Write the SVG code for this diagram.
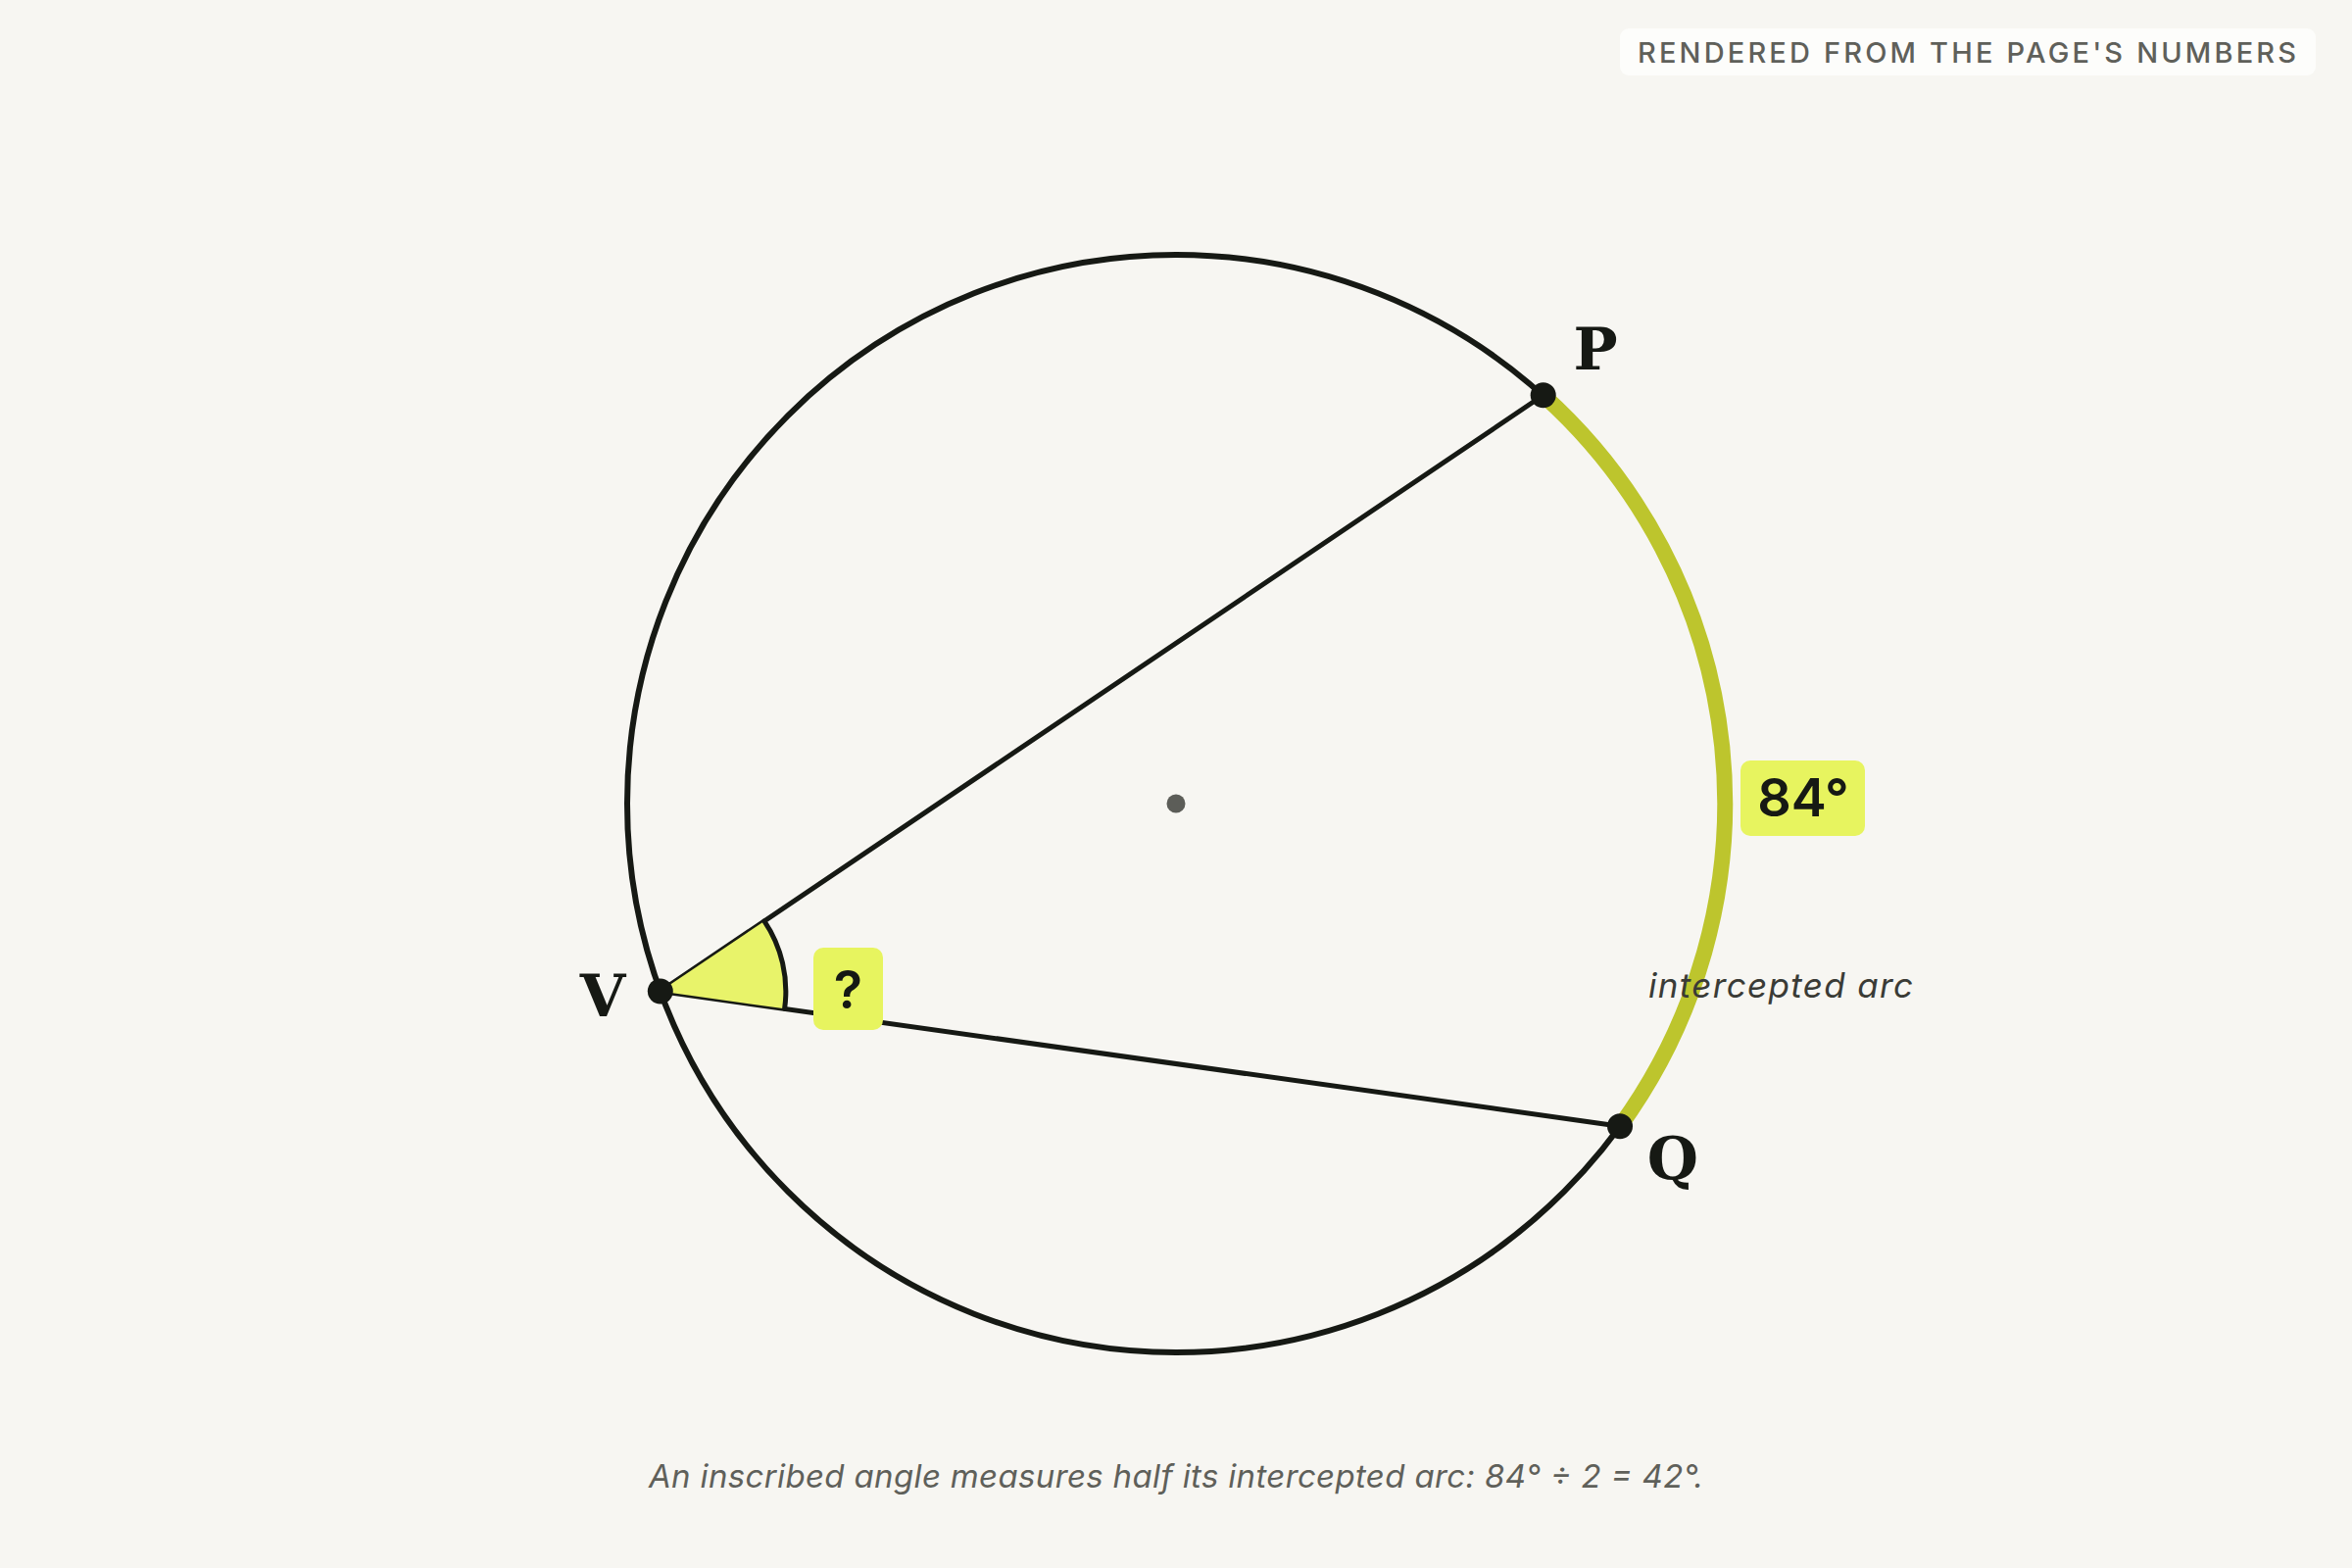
<svg xmlns="http://www.w3.org/2000/svg" width="2400" height="1600" viewBox="0 0 2400 1600">
  <style>
    .ink { stroke: #161914; fill: none; stroke-linecap: round; }
    .dot { fill: #161914; }
    .pt { font-family: "DejaVu Serif", "Liberation Serif", serif; font-weight: bold; font-size: 60px; fill: #161914; text-anchor: middle; }
    .tag { fill: #e7f45f; }
    .tagtxt { font-family: Inter, "Liberation Sans", sans-serif; font-weight: 600; font-size: 54px; fill: #161914; text-anchor: middle; }
    .note { font-family: Inter, "Liberation Sans", sans-serif; font-style: italic; fill: #3a3b36; }
  </style>
  <rect width="2400" height="1600" fill="#f7f6f2"/>

  <g id="badge">
    <rect x="1653" y="29" width="710" height="48" rx="9" fill="#fdfdfb"/>
    <text x="1671" y="64" font-family="Inter, 'Liberation Sans', sans-serif" font-weight="500" font-size="29" fill="#5f605a" textLength="672" lengthAdjust="spacing">RENDERED FROM THE PAGE'S NUMBERS</text>
  </g>

  <g id="circle">
    <circle class="ink" cx="1200" cy="820" r="560" stroke-width="6"/>
    <circle cx="1200" cy="820" r="9.5" fill="#5c5d58"/>
  </g>

  <g id="intercepted-arc">
    <path d="M 1574.7 403.3 A 560 560 0 0 1 1653.0 1149.2" fill="none" stroke="#bdc52d" stroke-width="16"/>
  </g>

  <g id="connectors">
    <line class="ink" x1="673.8" y1="1011.5" x2="1574.7" y2="403.3" stroke-width="5"/>
    <line class="ink" x1="673.8" y1="1011.5" x2="1653.0" y2="1149.2" stroke-width="5"/>
  </g>

  <g id="angle-V">
    <path d="M 673.8 1011.5 L 779.9 939.9 A 128 128 0 0 1 800.6 1029.3 Z" fill="#e8f36a"/>
    <path d="M 779.9 939.9 A 128 128 0 0 1 800.6 1029.3" class="ink" stroke-width="5"/>
  </g>

  <g id="node-P">
    <circle class="dot" cx="1574.7" cy="403.3" r="13"/>
    <text class="pt" x="1628" y="377">P</text>
  </g>
  <g id="node-V">
    <circle class="dot" cx="673.8" cy="1011.5" r="13"/>
    <text class="pt" x="615" y="1037">V</text>
  </g>
  <g id="node-Q">
    <circle class="dot" cx="1653.0" cy="1149.2" r="13"/>
    <text class="pt" x="1707" y="1203">Q</text>
  </g>

  <g id="label-question">
    <rect class="tag" x="830" y="967" width="71" height="84" rx="10"/>
    <text class="tagtxt" x="865.5" y="1029" font-weight="500">?</text>
  </g>

  <g id="label-84">
    <rect class="tag" x="1776" y="776" width="127" height="77" rx="10"/>
    <text class="tagtxt" x="1840" y="833">84°</text>
  </g>

  <text class="note" x="1682" y="1018" font-size="35" textLength="270" lengthAdjust="spacing">intercepted arc</text>

  <text x="1200" y="1518" font-family="Inter, 'Liberation Sans', sans-serif" font-style="italic" font-size="33" fill="#5f605a" text-anchor="middle" textLength="1076" lengthAdjust="spacing">An inscribed angle measures half its intercepted arc: 84° ÷ 2 = 42°.</text>
</svg>
